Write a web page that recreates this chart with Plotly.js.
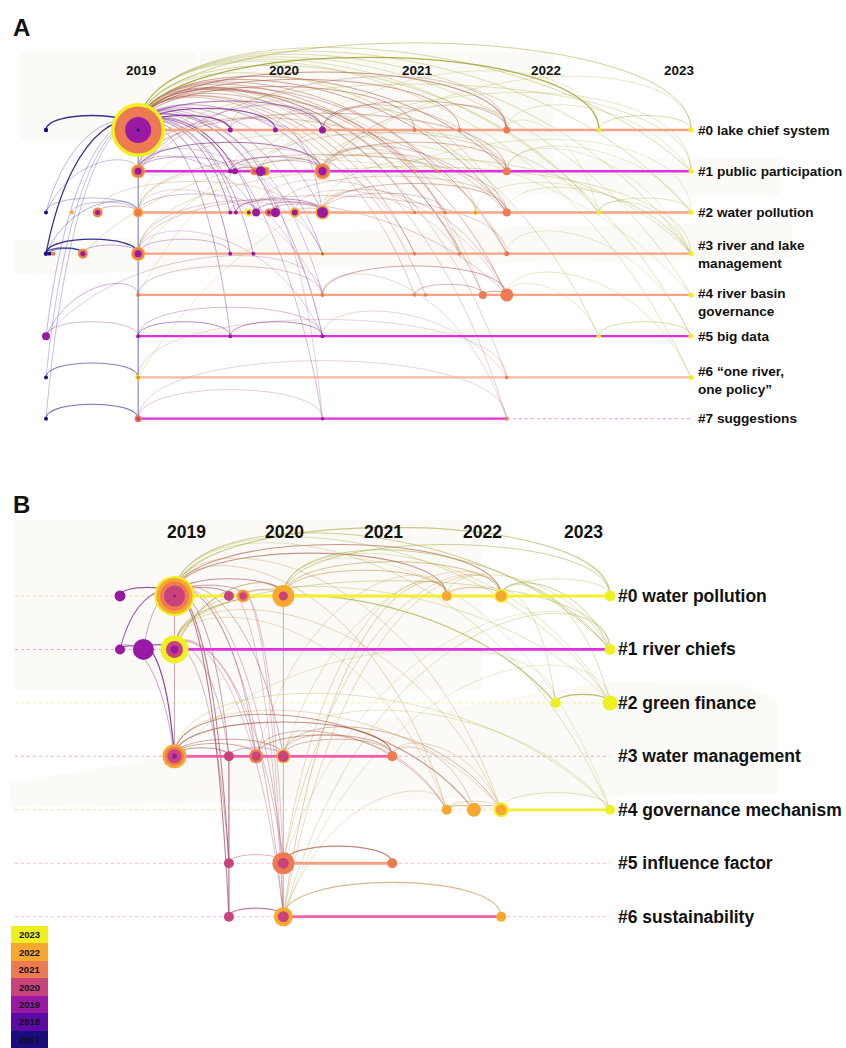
<!DOCTYPE html>
<html><head><meta charset="utf-8">
<script src="https://cdn.plot.ly/plotly-3.0.1.min.js"></script>
<style>html,body{margin:0;padding:0;background:#fff}#chart{width:846px;height:1048px}</style>
</head><body><div id="chart"></div>
<script>
// ---------------- data ----------------
const YEARS = [2017, 2018, 2019, 2020, 2021, 2022, 2023];
const YEAR_COLORS = ['#1a0c7f', '#5a0ba3', '#9a19a4', '#c8437b', '#ee7a52', '#f8a72f', '#eff022'];

// Panel A
const clustersA = ['#0 lake chief system', '#1 public participation', '#2 water pollution',
  '#3 river and lake<br>management', '#4 river basin<br>governance', '#5 big data',
  '#6 “one river,<br>one policy”', '#7 suggestions'];
const yearLabels = ['2019', '2020', '2021', '2022', '2023'];
const yearTickA = [1.03, 2.58, 4.03, 5.43, 6.88];   // time-slice position of year labels
const rowYearA = [2021, 2019, 2021, 2021, 2021, 2019, 2021, 2019];
const rowStartA = [1, 1, 1, 1, 1, 1, 1, 1];
const rowEndA = [7, 7, 7, 7, 7, 7, 7, 5];
const rowDashEndA = [null, null, null, null, null, null, null, 7];

// node: [id, cluster row, time slice, rings [year, radius]]
const nodesA = [
  ['a0',0,0,[[2017,2.2]]], ['a1',0,1,[[2023,27],[2021,23.5],[2019,13],[2017,1.5]]],
  ['a2',0,2,[[2019,2.5]]], ['a3',0,2.49,[[2019,2.5]]], ['a4',0,3,[[2019,3.5]]],
  ['a5',0,4,[[2021,2]]], ['a6',0,4.49,[[2021,2]]], ['a7',0,5,[[2021,3.5]]],
  ['a8',0,6,[[2023,2.2]]], ['a9',0,7,[[2023,2.5]]],
  ['b0',1,1,[[2022,7],[2021,6],[2019,3.5]]], ['b1',1,2,[[2019,2.2]]], ['b2',1,2.05,[[2019,3]]],
  ['b3',1,2.26,[[2022,4],[2021,3.2],[2020,1.5]]], ['b4',1,2.38,[[2023,5],[2021,4]]],
  ['b5',1,2.33,[[2019,5]]], ['b6',1,3,[[2022,8],[2021,7],[2019,4.2]]],
  ['b7',1,4,[[2021,1.8]]], ['b8',1,4.24,[[2021,1.8]]], ['b9',1,5,[[2021,4]]], ['b10',1,7,[[2023,2.5]]],
  ['c0',2,0,[[2017,2]]], ['c1',2,0.28,[[2022,2]]], ['c2',2,0.56,[[2022,5],[2021,4.5],[2019,2.5]]],
  ['c3',2,1,[[2022,5],[2021,3.5]]], ['c4',2,2,[[2019,2]]], ['c5',2,2.06,[[2019,2]]],
  ['c6',2,2.2,[[2023,4],[2019,2]]], ['c7',2,2.28,[[2019,4]]], ['c8',2,2.42,[[2021,4],[2019,2]]],
  ['c9',2,2.49,[[2021,5],[2019,4.5]]], ['c10',2,2.7,[[2022,5],[2019,3]]],
  ['c11',2,3,[[2022,7],[2019,5.5]]], ['c12',2,4,[[2021,1.8]]], ['c13',2,4.33,[[2021,1.8]]],
  ['c14',2,4.66,[[2023,2.5],[2021,1.5]]], ['c15',2,5,[[2021,4]]], ['c16',2,6,[[2023,2.2]]], ['c17',2,7,[[2023,2.5]]],
  ['d0',3,0,[[2017,2.2]]], ['d1',3,0.04,[[2017,2]]], ['d2',3,0.08,[[2021,2]]],
  ['d3',3,0.4,[[2022,5],[2021,4.5],[2019,2.5]]], ['d4',3,1,[[2022,7],[2021,6],[2019,3.5]]],
  ['d5',3,2,[[2019,2]]], ['d6',3,2.25,[[2019,2]]], ['d7',3,3,[[2023,2.2],[2019,1.2]]],
  ['d8',3,4,[[2021,1.8]]], ['d9',3,4.49,[[2021,1.8]]], ['d10',3,5,[[2021,2.5]]], ['d11',3,7,[[2023,2.5]]],
  ['e0',4,1,[[2021,2]]], ['e1',4,3,[[2021,2]]], ['e2',4,4,[[2021,1.8]]], ['e3',4,4.12,[[2021,1.8]]],
  ['e4',4,4.74,[[2021,4]]], ['e5',4,5,[[2021,6.5]]], ['e6',4,7,[[2023,2.5]]],
  ['f0',5,0,[[2019,4]]], ['f1',5,1,[[2019,2]]], ['f2',5,2,[[2019,2]]], ['f3',5,3,[[2019,2]]],
  ['f4',5,6,[[2023,2.2]]], ['f5',5,7,[[2023,2.5]]],
  ['g0',6,0,[[2017,2]]], ['g1',6,1,[[2023,2.8],[2021,1.8]]], ['g2',6,5,[[2021,1.8]]], ['g3',6,7,[[2023,2.5]]],
  ['h0',7,0,[[2017,2]]], ['h1',7,1,[[2021,3.5],[2020,2]]], ['h2',7,3,[[2019,1.8]]], ['h3',7,5,[[2021,2]]]
];

// link: [from, to, year, strength]
const linksA = [
  ['a0','a1',2017,1], ['d0','d4',2017,1], ['d0','a1',2017,1], ['d0','d3',2017,0.8], ['d1','d3',2017,0.6],
  ['c0','a1',2017,0.3], ['c0','c3',2017,0.3], ['d0','c3',2017,0.35], ['c0','b0',2017,0.25],
  ['g0','g1',2017,0.55], ['h0','h1',2017,0.65], ['g0','a1',2017,0.25], ['h0','a1',2017,0.25],
  ['f0','a1',2018,0.3], ['f0','e0',2019,0.35], ['f0','f1',2019,0.3], ['f0','e1',2019,0.2],
  ['a1','b0',2017,0.6], ['b0','c3',2017,0.6], ['c3','d4',2017,0.6], ['d4','e0',2017,0.6],
  ['e0','f1',2017,0.6], ['f1','g1',2017,0.6], ['g1','h1',2017,0.6],
  ['a1','a2',2019,0.9], ['a1','a3',2019,0.8], ['a1','a4',2019,0.6], ['a1','b1',2019,0.6], ['a1','b2',2019,0.5],
  ['a1','b5',2019,0.4], ['a1','c4',2019,0.5], ['a1','c5',2019,0.4], ['a1','c7',2019,0.4], ['a1','c9',2019,0.4],
  ['a1','c11',2019,0.3], ['a1','d5',2019,0.5], ['a1','d6',2019,0.4], ['a1','f2',2019,0.4], ['a1','f3',2019,0.3],
  ['a1','h2',2019,0.3], ['a1','e1',2019,0.25], ['a1','b6',2019,0.4], ['a1','d7',2019,0.3],
  ['b0','b6',2019,0.6], ['b0','b1',2019,0.4], ['b0','c7',2019,0.3], ['b0','a4',2019,0.3],
  ['b1','b6',2019,0.5], ['b2','b5',2019,0.4], ['b3','b6',2020,0.4],
  ['c2','c3',2020,0.4], ['c1','c3',2019,0.3], ['c3','c7',2019,0.3], ['c5','c11',2019,0.5],
  ['c7','c11',2019,0.4], ['c8','c11',2020,0.4], ['c10','c11',2020,0.3], ['d4','d5',2019,0.3], ['d3','d4',2019,0.4],
  ['f1','f2',2019,0.5], ['f2','f3',2019,0.5], ['f1','f3',2019,0.3], ['h1','h2',2020,0.25], ['g1','g2',2021,0.2], ['h1','h3',2020,0.2],
  ['a2','b6',2019,0.3], ['a3','c11',2019,0.3], ['b0','d7',2019,0.2], ['c4','f3',2019,0.2], ['b2','h2',2019,0.2],
  ['c5','d7',2019,0.2], ['d4','f3',2019,0.2], ['c3','e1',2020,0.2], ['b1','d8',2020,0.2],
  ['a1','a5',2021,0.5], ['a1','a6',2021,0.5], ['a1','a7',2021,0.6], ['a1','b7',2021,0.4], ['a1','b8',2021,0.4],
  ['a1','b9',2021,0.5], ['a1','c12',2021,0.4], ['a1','c13',2021,0.4], ['a1','c15',2021,0.5], ['a1','d8',2021,0.4],
  ['a1','d9',2021,0.4], ['a1','d10',2021,0.4], ['a1','e2',2021,0.3], ['a1','e3',2021,0.3], ['a1','e4',2021,0.4],
  ['a1','e5',2021,0.4], ['a1','g2',2021,0.25], ['a1','h3',2021,0.25],
  ['b0','b9',2021,0.4], ['b0','c15',2021,0.3], ['b0','a7',2021,0.3], ['b6','b9',2021,0.4], ['b6','c15',2021,0.3],
  ['c11','c15',2021,0.4], ['c3','c15',2021,0.3], ['d4','d10',2021,0.3], ['d4','e5',2021,0.3], ['c11','e5',2021,0.3],
  ['a4','a7',2021,0.4], ['e1','e5',2021,0.5], ['e2','e4',2021,0.4], ['e4','e5',2021,0.5], ['e0','e1',2020,0.3],
  ['b6','a7',2021,0.3], ['b6','b8',2021,0.25], ['c11','c13',2021,0.3], ['c9','c15',2021,0.25], ['a4','b9',2021,0.3],
  ['a4','c15',2021,0.25], ['b5','b9',2021,0.25], ['c7','e5',2021,0.2], ['a3','d9',2021,0.2], ['a2','e4',2021,0.2],
  ['e1','h3',2021,0.2], ['f3','g2',2021,0.2], ['b6','d10',2021,0.2], ['c10','d9',2021,0.2],
  ['c2','c10',2022,0.3], ['d3','c14',2023,0.3], ['c3','c14',2023,0.25],
  ['a1','a8',2023,1], ['a1','a9',2023,0.5], ['a1','b10',2023,0.4], ['a1','c16',2023,0.4], ['a1','c17',2023,0.35],
  ['a1','d11',2023,0.35], ['a1','e6',2023,0.3], ['a1','f4',2023,0.35], ['a1','f5',2023,0.3], ['a1','g3',2023,0.3],
  ['b6','c16',2023,0.3], ['c11','d11',2023,0.3], ['b0','b10',2023,0.3], ['d4','d11',2023,0.3], ['a8','a9',2023,0.4],
  ['f4','f5',2023,0.4], ['c16','c17',2023,0.3], ['c16','d11',2023,0.3], ['a7','b10',2023,0.25], ['c15','d11',2023,0.25],
  ['e5','g3',2023,0.25], ['b9','c17',2023,0.25], ['c14','d11',2023,0.2], ['e0','a8',2023,0.2], ['g1','c17',2023,0.2],
  ['d4','b10',2023,0.25], ['b6','a9',2023,0.25], ['c3','e6',2023,0.2], ['b9','d11',2023,0.2], ['a7','c16',2023,0.2],
  ['e5','f4',2023,0.2], ['d10','f5',2023,0.2]
];

// Panel B
const clustersB = ['#0 water pollution', '#1 river chiefs', '#2 green finance', '#3 water management',
  '#4 governance mechanism', '#5 influence factor', '#6 sustainability'];
const yearTickB = [1.23, 3.03, 4.83, 6.66, 8.52];
const rowYearB = [2023, 2019, null, 2020, 2023, 2021, 2020];
const rowStartB = [1, 1, null, 1, 7, 3, 3];
const rowEndB = [9, 9, null, 5, 9, 5, 7];
const rowDashYearB = [2022, 2019, 2023, 2020, 2022, 2020, 2020];

const nodesB = [
  ['p0',0,0,[[2019,5.5]]], ['p1',0,1,[[2023,20],[2022,18],[2021,14.5],[2020,10.5],[2019,1.5]]],
  ['p2',0,2,[[2020,5]]], ['p3',0,2.26,[[2022,6.5],[2021,5],[2020,3.5]]], ['p4',0,3,[[2022,11],[2020,4.5]]],
  ['p5',0,6,[[2022,5]]], ['p6',0,7,[[2023,7],[2022,5.5]]], ['p7',0,9,[[2023,5.5]]],
  ['q0',1,0,[[2019,5]]], ['q1',1,0.43,[[2019,10.5]]], ['q2',1,1,[[2023,14],[2020,8.5],[2019,4]]], ['q3',1,9,[[2023,5.5]]],
  ['r0',2,8,[[2023,5]]], ['r1',2,9,[[2023,7.5]]],
  ['t0',3,1,[[2022,12],[2021,9.5],[2020,7],[2019,2.5]]], ['t1',3,2,[[2020,5]]],
  ['t2',3,2.5,[[2021,7],[2020,4.5]]], ['t3',3,3,[[2022,7],[2020,5.5]]], ['t4',3,5,[[2021,5]]],
  ['u0',4,6,[[2022,5]]], ['u1',4,6.5,[[2022,7]]], ['u2',4,7,[[2023,7.5],[2022,5.5]]], ['u3',4,9,[[2023,5]]],
  ['v0',5,2,[[2020,5]]], ['v1',5,3,[[2021,11],[2020,5.5]]], ['v2',5,5,[[2021,5]]],
  ['w0',6,2,[[2020,5]]], ['w1',6,3,[[2022,9.5],[2020,5.5]]], ['w2',6,7,[[2022,5]]]
];

const linksB = [
  ['p0','p1',2019,0.8], ['q0','p1',2019,0.7], ['q0','q1',2019,0.8], ['q1','q2',2019,0.8], ['q1','t0',2019,0.9],
  ['q0','t0',2019,0.4], ['q1','p1',2019,0.4],
  ['p1','q2',2020,0.5], ['q2','t0',2020,0.5], ['p4','t3',2020,0.45], ['t3','v1',2020,0.45], ['v1','w1',2020,0.45],
  ['t1','v0',2020,0.8], ['v0','w0',2020,0.8],
  ['p1','p2',2020,0.6], ['p1','p3',2020,0.5], ['p1','p4',2020,0.6], ['p3','p4',2020,0.4],
  ['p1','t1',2020,0.5], ['p1','v0',2020,0.7], ['p1','w0',2020,0.7], ['p1','t2',2020,0.4], ['p1','t3',2020,0.4],
  ['p1','v1',2020,0.35], ['p1','w1',2020,0.35], ['q2','t1',2020,0.4], ['q2','t2',2020,0.4], ['q2','v0',2020,0.4],
  ['q2','w1',2020,0.3], ['q2','v1',2020,0.3], ['p2','w1',2020,0.3], ['p3','w1',2020,0.3], ['p3','v1',2020,0.3],
  ['p1','p5',2021,0.6], ['p1','p6',2021,0.6], ['p1','p7',2023,0.6], ['p1','q3',2023,0.5], ['p1','r1',2023,0.35],
  ['p1','u0',2022,0.35], ['p1','u2',2022,0.3],
  ['q2','p4',2022,0.6], ['q2','r0',2023,0.7], ['q2','q3',2023,0.4], ['q2','u2',2022,0.3],
  ['p4','p5',2022,0.5], ['p4','p6',2022,0.5], ['p4','p7',2023,0.5], ['p4','q3',2023,0.5], ['p4','r1',2023,0.3],
  ['p5','p6',2022,0.5], ['p6','q3',2023,0.5], ['p6','r1',2023,0.35], ['p6','r0',2023,0.3], ['p6','p7',2023,0.3], ['p5','q3',2023,0.3],
  ['t0','t1',2020,0.6], ['t0','t2',2021,0.5], ['t0','t3',2021,0.5], ['t0','t4',2021,0.7], ['t0','u1',2021,0.6],
  ['t2','t4',2021,0.5], ['t3','t4',2021,0.4], ['t2','u0',2021,0.4], ['t3','u2',2021,0.4], ['t0','u2',2022,0.3],
  ['t4','u2',2022,0.3], ['t1','t3',2020,0.4], ['t3','u0',2021,0.3], ['t4','u1',2021,0.3],
  ['u0','u1',2022,0.6], ['u1','u2',2022,0.5], ['u0','u2',2022,0.3], ['u2','u3',2023,0.3],
  ['v0','v1',2020,0.4], ['v1','v2',2021,0.7], ['w0','w1',2020,0.7], ['w1','w2',2022,0.6],
  ['w1','p5',2022,0.4], ['w1','p6',2022,0.3], ['w1','q3',2023,0.3], ['w1','u0',2022,0.25],
  ['v1','p6',2022,0.3], ['v1','p5',2022,0.3], ['r0','r1',2023,0.8],
  ['t0','u3',2023,0.3], ['t3','u3',2023,0.25], ['q2','r1',2023,0.3], ['p1','u3',2023,0.3],
  ['t3','p6',2022,0.25], ['t2','p5',2022,0.25], ['w1','r1',2023,0.2], ['v1','q3',2023,0.2], ['t0','r0',2023,0.25],
  ['p4','u3',2023,0.2], ['q2','u0',2022,0.25]
];

const legendYears = ['2017', '2018', '2019', '2020', '2021', '2022', '2023'];

// ---------------- styling / layout ----------------
const W = 846, H = 1048;
const FONT = 'Liberation Sans, Arial, sans-serif';
const LINK_COLORS = {2017:'#22228e', 2018:'#4d1c9c', 2019:'#7d2590', 2020:'#a4475f', 2021:'#a8523d', 2022:'#c08a3c', 2023:'#a9a83a'};
const LINE_COLORS = {2019:'#e22ee2', 2020:'#ff5ea6', 2021:'#f7a383', 2022:'#f8b04a', 2023:'#f4f02c'};
const colorOf = y => YEAR_COLORS[YEARS.indexOf(y)];

const splitY = 470; // px boundary between panels
const axA = {x:[-0.4992, 8.6815], y:[8.244, -3.152], dom:[1 - splitY / H, 1]};
const axB = {x:[-2.204, 13.333], y:[8.457, -2.357], dom:[0, 1 - splitY / H]};
function pxScale(ax){
  return {px: W / (ax.x[1] - ax.x[0]), py: (ax.dom[1] - ax.dom[0]) * H / Math.abs(ax.y[0] - ax.y[1])};
}
const py = p => 1 - p / H;
const pxp = p => p / W;

const traces = [];
const shapes = [];

// background washes (decoration)
const washes = [
  [[20,52],[196,52],[196,140],[20,140]],
  [[200,52],[553,52],[553,165],[200,150]],
  [[400,160],[780,158],[780,196],[400,192]],
  [[15,240],[560,226],[792,222],[792,258],[560,262],[15,275]],
  [[15,520],[482,520],[482,690],[15,690]],
  [[11,783],[599,683],[737,682],[777,700],[777,793],[11,807]]
];
washes.forEach(poly => {
  shapes.push({type:'path', xref:'paper', yref:'paper', layer:'below', line:{width:0},
    fillcolor:'#f2f0e0', opacity:0.3,
    path:'M' + poly.map(p => pxp(p[0]).toFixed(4) + ',' + py(p[1]).toFixed(4)).join(' L') + ' Z'});
});

function arcPath(L, R, sc){
  if (R.x < L.x) { const t = L; L = R; R = t; }
  const dxs = R.x - L.x;
  const h = 0.21 * dxs * sc.px / sc.py;
  const top = Math.min(L.y, R.y) - h;
  const p1x = L.x + (L.y > R.y ? 0.3 * dxs : 0);
  const p2x = R.x - (R.y > L.y ? 0.3 * dxs : 0);
  const f = v => v.toFixed(4);
  return `M${f(L.x)},${f(L.y)} C${f(p1x)},${f(top)} ${f(p2x)},${f(top)} ${f(R.x)},${f(R.y)}`;
}

function buildPanel(nodes, links, ax, xa, ya){
  const sc = pxScale(ax);
  const byId = {};
  nodes.forEach(n => byId[n[0]] = {x:n[2], y:n[1]});
  links.forEach(l => {
    const a = byId[l[0]], b = byId[l[1]];
    shapes.push({type:'path', xref:xa, yref:ya, layer:'below', path:arcPath(a, b, sc),
      line:{color:LINK_COLORS[l[2]], width:0.7 + 0.6 * l[3]}, opacity:Math.min(1, 0.12 + 0.8 * l[3])});
  });
  return byId;
}

function nodeTrace(nodes, xa, ya){
  const xs = [], ys = [], ss = [], cs = [];
  nodes.forEach(n => n[3].forEach(r => { xs.push(n[2]); ys.push(n[1]); ss.push(2 * r[1]); cs.push(colorOf(r[0])); }));
  traces.push({type:'scatter', mode:'markers', x:xs, y:ys, xaxis:xa, yaxis:ya, hoverinfo:'skip',
    marker:{size:ss, color:cs, line:{width:0}, opacity:1}, cliponaxis:false});
}

// Panel A
buildPanel(nodesA, linksA, axA, 'x', 'y');
rowYearA.forEach((yr, r) => {
  if (rowDashEndA[r] !== null) traces.push({type:'scatter', mode:'lines', x:[rowEndA[r], rowDashEndA[r]], y:[r, r],
    xaxis:'x', yaxis:'y', hoverinfo:'skip', line:{color:'#e9a6e9', width:1.3, dash:'dot'}});
  traces.push({type:'scatter', mode:'lines', x:[rowStartA[r], rowEndA[r]], y:[r, r], xaxis:'x', yaxis:'y',
    hoverinfo:'skip', line:{color:LINE_COLORS[yr], width:2.3}, opacity: r === 6 ? 0.75 : 1});
});
nodeTrace(nodesA, 'x', 'y');

// Panel B
buildPanel(nodesB, linksB, axB, 'x2', 'y2');
rowDashYearB.forEach((yr, r) => {
  traces.push({type:'scatter', mode:'lines', x:[-1.93, 9], y:[r, r], xaxis:'x2', yaxis:'y2', hoverinfo:'skip',
    line:{color:LINE_COLORS[yr], width:1.1, dash:'dot'}, opacity:0.45});
});
rowYearB.forEach((yr, r) => {
  if (yr === null) return;
  traces.push({type:'scatter', mode:'lines', x:[rowStartB[r], rowEndB[r]], y:[r, r], xaxis:'x2', yaxis:'y2',
    hoverinfo:'skip', line:{color:LINE_COLORS[yr], width:2.8}});
});
nodeTrace(nodesB, 'x2', 'y2');

// Year legend
traces.push({type:'bar', orientation:'h', y:legendYears, x:legendYears.map(() => 1), xaxis:'x3', yaxis:'y3',
  marker:{color:legendYears.map(y => colorOf(+y)), line:{width:0}}, text:legendYears, textposition:'inside',
  insidetextanchor:'middle', textangle:0, hoverinfo:'skip',
  textfont:{family:FONT, size:9.5, color:'#111', weight:'bold'}});

// annotations
const ann = [];
const boldFont = s => ({family:FONT, size:s, color:'#111', weight:'bold'});
ann.push({xref:'paper', yref:'paper', x:pxp(11), y:py(28), text:'A', showarrow:false, xanchor:'left', yanchor:'middle', font:boldFont(24)});
ann.push({xref:'paper', yref:'paper', x:pxp(11), y:py(505), text:'B', showarrow:false, xanchor:'left', yanchor:'middle', font:boldFont(24)});
yearLabels.forEach((t, i) => {
  ann.push({xref:'x', yref:'paper', x:yearTickA[i], y:py(71), text:t, showarrow:false, xanchor:'center', yanchor:'middle', font:boldFont(13.5)});
  ann.push({xref:'x2', yref:'paper', x:yearTickB[i], y:py(532), text:t, showarrow:false, xanchor:'center', yanchor:'middle', font:boldFont(17.5)});
});
const labelShiftA = [0, 0, 0, -1, -8, 0, -3, 0];
clustersA.forEach((t, r) => ann.push({xref:'x', yref:'y', x:7, y:r, xshift:5, yshift:labelShiftA[r], text:t, showarrow:false,
  xanchor:'left', yanchor:'middle', align:'left', font:boldFont(13.6)}));
clustersB.forEach((t, r) => ann.push({xref:'x2', yref:'y2', x:9, y:r, xshift:6, text:t, showarrow:false,
  xanchor:'left', yanchor:'middle', align:'left', font:boldFont(17.5)}));

const hid = {visible:false, fixedrange:true, showgrid:false, zeroline:false};
const layout = {
  width:W, height:H, margin:{l:0, r:0, t:0, b:0}, paper_bgcolor:'#fff', plot_bgcolor:'rgba(0,0,0,0)',
  showlegend:false, bargap:0,
  xaxis:Object.assign({}, hid, {range:axA.x, domain:[0, 1], anchor:'y'}),
  yaxis:Object.assign({}, hid, {range:axA.y, domain:axA.dom, anchor:'x'}),
  xaxis2:Object.assign({}, hid, {range:axB.x, domain:[0, 1], anchor:'y2'}),
  yaxis2:Object.assign({}, hid, {range:axB.y, domain:axB.dom, anchor:'x2'}),
  xaxis3:Object.assign({}, hid, {range:[0, 1], domain:[pxp(11), pxp(48)], anchor:'y3'}),
  yaxis3:Object.assign({}, hid, {type:'category', categoryorder:'array', categoryarray:legendYears,
    domain:[py(1048.5), py(926)], anchor:'x3'}),
  shapes:shapes, annotations:ann, font:{family:FONT}
};
Plotly.newPlot('chart', traces, layout, {displayModeBar:false, staticPlot:true});
</script></body></html>
